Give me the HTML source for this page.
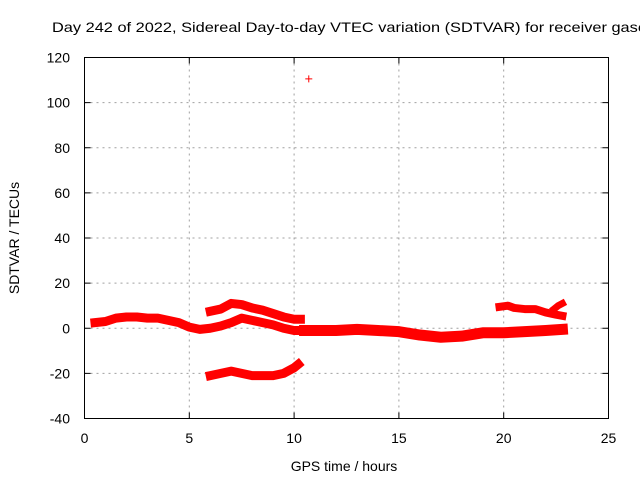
<!DOCTYPE html>
<html><head><meta charset="utf-8"><style>
body{margin:0;background:#fff;width:640px;height:480px;overflow:hidden}
text{font-family:"Liberation Sans",sans-serif;font-size:14px;fill:#000}
</style></head><body>
<svg id="chart" width="640" height="480" xmlns="http://www.w3.org/2000/svg">
<text x="52" y="32" textLength="594" lengthAdjust="spacingAndGlyphs">Day 242 of 2022, Sidereal Day-to-day VTEC variation (SDTVAR) for receiver gasc</text>
<g id="grid"></g>
<g id="ticks"></g>
<g id="series"></g>
<rect x="84.5" y="57.5" width="524" height="361" fill="none" stroke="#000" stroke-width="1"/>
<text x="344" y="471" text-anchor="middle">GPS time / hours</text>
<text transform="translate(19,238) rotate(-90)" text-anchor="middle">SDTVAR / TECUs</text>
</svg>
<script>
const xTicks=[0,5,10,15,20,25];
const yTicks=[-40,-20,0,20,40,60,80,100,120];
const segMainX=[0.5,1,1.5,2,2.5,3,3.5,4,4.5,5,5.5,6,6.5,7,7.5,8,8.5,9,9.5,10,10.3];
const segMainY=[2.5,3,4.5,5,5,4.5,4.5,3.5,2.5,0.5,-0.5,0,1,2.5,4.5,3.5,2.5,1.5,0,-1,-1];
const segUpperX=[6,6.5,7,7.5,8,8.5,9,9.5,10,10.3];
const segUpperY=[7.5,8.5,11,10.5,9,8,6.5,5,4,4];
const segLowerX=[6,6.5,7,7.5,8,8.5,9,9.5,10,10.2];
const segLowerY=[-21,-20,-19,-20,-21,-21,-21,-20,-17.5,-16];
const segLateX=[10.5,11,12,13,14,15,16,17,18,19,20,21,22,22.8];
const segLateY=[-1,-1,-1,-0.5,-1,-1.5,-3,-4,-3.5,-2,-2,-1.5,-1,-0.5];
const segEveX=[19.8,20.2,20.5,21,21.5,22,22.5,22.8];
const segEveY=[9.5,10,9,8.5,8.5,7,6,5.5];
const segBranchX=[22.4,22.6,22.8];
const segBranchY=[8.5,10,11];
const outlierX=[10.7];
const outlierY=[110.5];
const X0=84.5,X1=608.5,Y0=418.5,Y1=57.5;
const sx=v=>X0+(v-0)/25*(X1-X0);
const sy=v=>Y0-(v+40)/160*(Y0-Y1);
const NS="http://www.w3.org/2000/svg";
const grid=document.getElementById('grid'),ticks=document.getElementById('ticks'),ser=document.getElementById('series');
function mk(t,a,p){const e=document.createElementNS(NS,t);for(const k in a)e.setAttribute(k,a[k]);p.appendChild(e);return e;}
xTicks.forEach(v=>{const x=sx(v);
 if(v>0&&v<25){const g=mk('line',{x1:x,x2:x,y1:Y1,y2:Y0,stroke:'#a0a0a0','stroke-dasharray':'2,4'},grid);
 
 }
 mk('line',{x1:x,x2:x,y1:Y0,y2:Y0-6,stroke:'#000'},ticks);mk('line',{x1:x,x2:x,y1:Y1,y2:Y1+6,stroke:'#000'},ticks);
 const t=mk('text',{x:x,y:443,'text-anchor':'middle'},ticks);t.textContent=v;
 
 });
yTicks.forEach(v=>{const y=sy(v);
 if(v>-40&&v<120){const g=mk('line',{x1:X0,x2:X1,y1:y,y2:y,stroke:'#a0a0a0','stroke-dasharray':'2,4'},grid);
 
 }
 mk('line',{x1:X0,x2:X0+6,y1:y,y2:y,stroke:'#000'},ticks);mk('line',{x1:X1,x2:X1-6,y1:y,y2:y,stroke:'#000'},ticks);
 const t=mk('text',{x:70,y:y+5,'text-anchor':'end'},ticks);t.textContent=v;
 
 });
function seg(xs,ys,name,w){
 const pts=xs.map((x,i)=>sx(x)+','+sy(ys[i])).join(' ');
 const p=mk('polyline',{points:pts,fill:'none',stroke:'#ff0000','stroke-width':w,'stroke-linejoin':'round','stroke-linecap':'square'},ser);
 
 
}
seg(segMainX,segMainY,'series-main',9);
seg(segUpperX,segUpperY,'series-upper',9);
seg(segLowerX,segLowerY,'series-lower',9);
seg(segLateX,segLateY,'series-late',11);
seg(segEveX,segEveY,'series-evening',8);
seg(segBranchX,segBranchY,'series-branch',7);
outlierX.forEach((x,i)=>{const cx=sx(x),cy=sy(outlierY[i]);
 const g=mk('path',{d:`M${cx-3.5},${cy}H${cx+3.5}M${cx},${cy-3.5}V${cy+3.5}`,stroke:'#ff0000','stroke-width':1},ser);
 
 });
</script>
</body></html>
